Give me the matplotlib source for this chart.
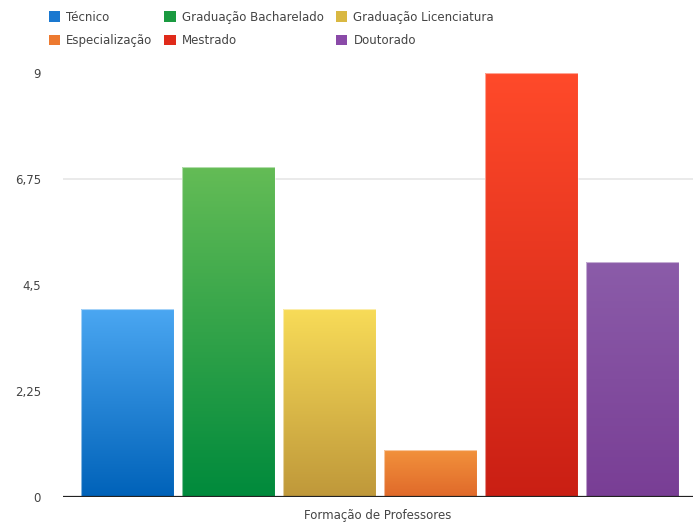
import numpy as np
import matplotlib
matplotlib.use('Agg')
import matplotlib.pyplot as plt
from matplotlib.colors import LinearSegmentedColormap
from matplotlib.patches import Patch

categories = ['Técnico', 'Graduação Bacharelado', 'Graduação Licenciatura',
              'Especialização', 'Mestrado', 'Doutorado']
values = [4, 7, 4, 1, 9, 5]
yticks = [0, 2.25, 4.5, 6.75, 9]
ytick_labels = ['0', '2,25', '4,5', '6,75', '9']

# (top, bottom) colours of each bar's gradient, plus the legend swatch colour
top_colors = ['#4ba7f2', '#64bc56', '#f8dc58', '#f2923c', '#ff4a2a', '#8b5ca9']
bottom_colors = ['#0062b9', '#008a3c', '#bf983a', '#e0692a', '#ca1f14', '#793e95']
legend_colors = ['#1a78d0', '#1a9a40', '#d9b842', '#ed7a30', '#e02a1a', '#8a4aa8']

fig = plt.figure(figsize=(6.93, 5.25), dpi=100)
ax = fig.add_axes([63 / 693, 28 / 525, 630 / 693, 437 / 525])

x = np.arange(len(categories))
bars = ax.bar(x, values, width=0.92, color='none', edgecolor='none', zorder=3)

# fill each bar with a vertical gradient, lighter at the top
grad = np.linspace(0, 1, 256).reshape(-1, 1)
for bar, c_top, c_bot in zip(bars, top_colors, bottom_colors):
    x0, y0 = bar.get_x(), bar.get_y()
    w, h = bar.get_width(), bar.get_height()
    cmap = LinearSegmentedColormap.from_list('g', [c_bot, c_top])
    im = ax.imshow(grad, cmap=cmap, origin='lower', aspect='auto',
                   extent=(x0, x0 + w, y0, y0 + h), zorder=3)
    im.set_clip_path(bar)
    ax.add_patch(plt.Rectangle((x0, y0), w, h, facecolor='none',
                               edgecolor='white', linewidth=0.8, alpha=0.5, zorder=4))

ax.set_xlim(-0.64, 5.6)
ax.set_ylim(0, 9.28)
ax.axhline(6.75, color='#e6e6e6', linewidth=1.2, zorder=1)
ax.axhline(0, color='#222222', linewidth=1.6, zorder=5)

ax.set_yticks(yticks)
ax.set_yticklabels(ytick_labels, fontsize=8.5, color='#444444')
ax.tick_params(axis='y', length=0, pad=16)
ax.set_xticks([])
for s in ax.spines.values():
    s.set_visible(False)

fig.text(378 / 693, 1 - 515 / 525, 'Formação de Professores', ha='center', va='center',
         fontsize=8.5, color='#444444')

# legend filled column by column: 3 columns, 2 rows
order = [0, 3, 1, 4, 2, 5]
handles = [Patch(facecolor=legend_colors[i], edgecolor='none') for i in order]
labels = [categories[i] for i in order]
fig.legend(handles, labels, ncol=3, loc='upper left', bbox_to_anchor=(38 / 693, 1 - 0 / 525),
           frameon=False, fontsize=8.5, handlelength=0.95, handleheight=0.95,
           handletextpad=0.55, columnspacing=1.0, labelspacing=0.85, labelcolor='#444444')

fig.savefig('out.png', dpi=100)
